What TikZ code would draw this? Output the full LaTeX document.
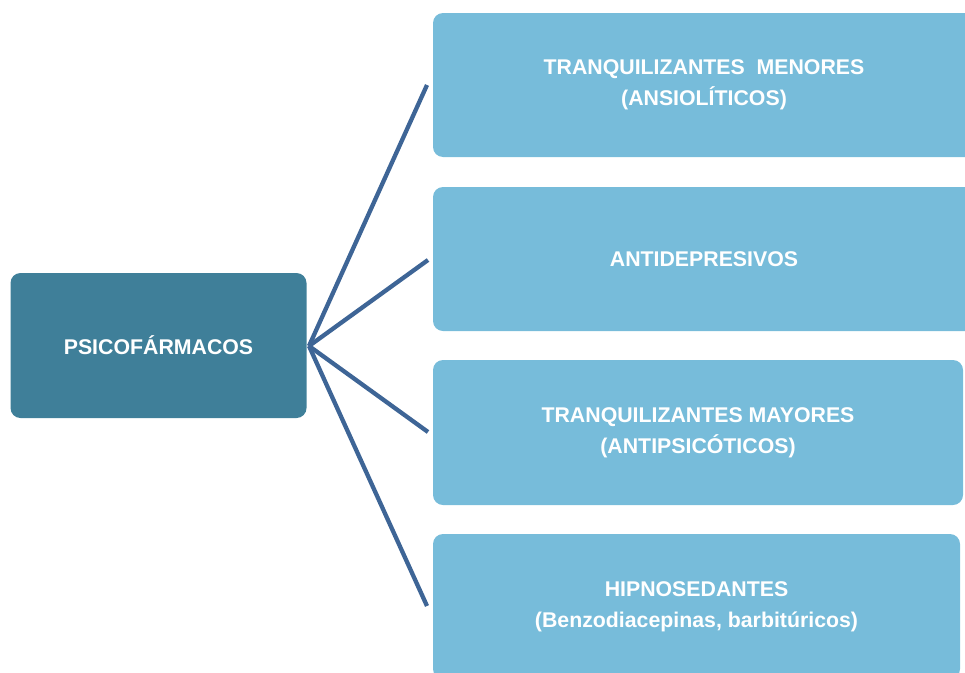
\documentclass[tikz,border=0pt]{standalone}
\usepackage{fontspec}
\setmainfont{Liberation Sans}
\definecolor{darkteal}{HTML}{3F7F99}
\definecolor{lightblue}{HTML}{77BCDA}
\definecolor{connblue}{HTML}{3E6596}
\begin{document}
\begin{tikzpicture}[x=1pt,y=-1pt,
  boxbase/.style={rounded corners=10pt, inner sep=0pt, text=white, align=center,
    font=\fontsize{21.3}{31}\selectfont\bfseries},
  darkbox/.style={boxbase, fill=darkteal},
  lightbox/.style={boxbase, fill=lightblue},
  conn/.style={draw=connblue, line width=4.3pt}]
\useasboundingbox (0,0) rectangle (965,672);
\clip (0,0) rectangle (965,672);
\node[darkbox, minimum width=296pt, minimum height=145pt] (p) at (158.5,345.5) {PSICOFÁRMACOS};
\node[lightbox, minimum width=542pt, minimum height=144pt] (b1) at (704,85) {TRANQUILIZANTES\ \ MENORES\\(ANSIOLÍTICOS)};
\node[lightbox, minimum width=542pt, minimum height=144pt] (b2) at (704,259) {ANTIDEPRESIVOS};
\node[lightbox, minimum width=530pt, minimum height=145pt] (b3) at (698,432.5) {TRANQUILIZANTES MAYORES\\(ANTIPSICÓTICOS)};
\node[lightbox, minimum width=527pt, minimum height=145pt] (b4) at (696.5,606.5) {HIPNOSEDANTES\\(Benzodiacepinas, barbitúricos)};
\coordinate (h) at (309,346);
\coordinate (t1) at (427,85);
\coordinate (t2) at (428,260);
\coordinate (t3) at (428,432);
\coordinate (t4) at (427,606);
\draw[conn] (h) -- (t1);
\draw[conn] (h) -- (t2);
\draw[conn] (h) -- (t3);
\draw[conn] (h) -- (t4);
\end{tikzpicture}
\end{document}
